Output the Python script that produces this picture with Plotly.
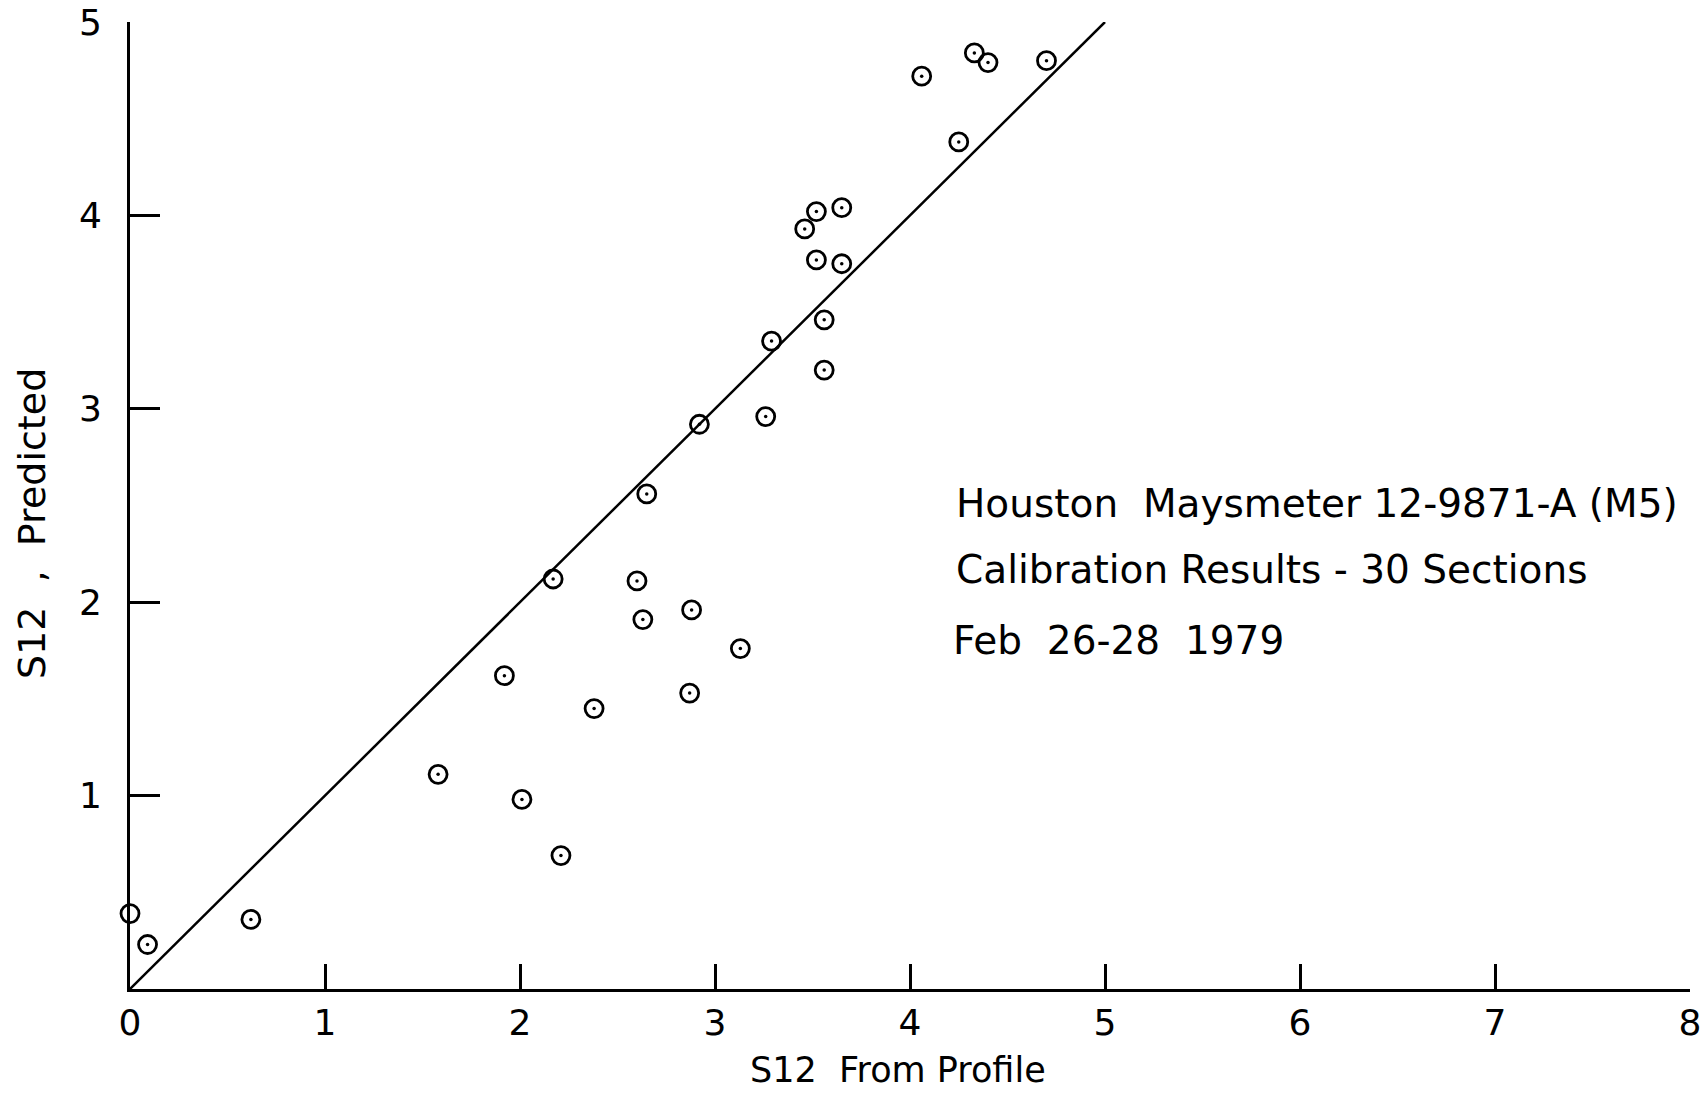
import plotly.graph_objects as go

# Data
s12_profile = [0.00, 0.09, 0.62, 1.58, 1.92, 2.01, 2.17, 2.21, 2.38, 2.60,
               2.63, 2.65, 2.87, 2.88, 2.92, 3.13, 3.26, 3.29, 3.46, 3.52,
               3.52, 3.56, 3.56, 3.65, 3.65, 4.06, 4.25, 4.33, 4.40, 4.70]
s12_predicted = [0.39, 0.23, 0.36, 1.11, 1.62, 0.98, 2.12, 0.69, 1.45, 2.11,
                 1.91, 2.56, 1.53, 1.96, 2.92, 1.76, 2.96, 3.35, 3.93, 4.02,
                 3.77, 3.46, 3.20, 4.04, 3.75, 4.72, 4.38, 4.84, 4.79, 4.80]
line_x = [0, 5]
line_y = [0, 5]
x_ticks = [0, 1, 2, 3, 4, 5, 6, 7, 8]
y_ticks = [1, 2, 3, 4, 5]
notes = ["Houston  Maysmeter 12-9871-A (M5)",
         "Calibration Results - 30 Sections",
         "Feb  26-28  1979"]

FONT = "DejaVu Sans"
W, H = 1704, 1095
ML, MT = 130, 22
MR = W - 1690
MB = H - 989

fig = go.Figure()
fig.add_trace(go.Scatter(x=line_x, y=line_y, mode="lines",
                         line=dict(color="black", width=2.5),
                         showlegend=False, hoverinfo="skip"))
fig.add_trace(go.Scatter(x=s12_profile, y=s12_predicted, mode="markers",
                         marker=dict(symbol="circle-open", size=18, color="black",
                                     line=dict(width=2.8, color="black")),
                         cliponaxis=False, showlegend=False))
fig.add_trace(go.Scatter(x=s12_profile[1:], y=s12_predicted[1:], mode="markers",
                         marker=dict(symbol="circle", size=3.5, color="black"),
                         cliponaxis=False, showlegend=False, hoverinfo="skip"))

axis_common = dict(showgrid=False, zeroline=False, showline=True, linecolor="black",
                   linewidth=3, ticks="inside", tickcolor="black", tickwidth=3,
                   automargin=False, ticklabeloverflow="allow",
                   tickfont=dict(family=FONT, size=36, color="black"))
fig.update_xaxes(range=[0, 8], tickvals=x_ticks, ticklen=25,
                 ticklabelstandoff=0, **axis_common)
fig.update_yaxes(range=[0, 5], tickvals=y_ticks, ticklen=30,
                 ticklabelstandoff=18, **axis_common)

pw, ph = W - ML - MR, H - MT - MB
def px(xp):  # page pixel -> paper x
    return (xp - ML) / pw
def py(yp):  # page pixel -> paper y
    return (H - MB - yp) / ph

ann = []
note_y = [503, 569, 640]
note_x = [954, 954, 951]
for t, xx, yy in zip(notes, note_x, note_y):
    ann.append(dict(text=t, x=px(xx), y=py(yy), xref="paper", yref="paper",
                    xanchor="left", yanchor="middle", showarrow=False,
                    font=dict(family=FONT, size=39, color="black")))
ann.append(dict(text="S12  From Profile", x=px(898), y=py(1070), xref="paper",
                yref="paper", xanchor="center", yanchor="middle", showarrow=False,
                font=dict(family=FONT, size=35, color="black")))
ann.append(dict(text="S12  ,  Predicted", x=px(32), y=py(524), xref="paper",
                yref="paper", xanchor="center", yanchor="middle", showarrow=False,
                textangle=-90, font=dict(family=FONT, size=38, color="black")))

fig.update_layout(width=W, height=H, margin=dict(l=ML, r=MR, t=MT, b=MB),
                  plot_bgcolor="white", paper_bgcolor="white", annotations=ann,
                  showlegend=False)
fig.write_html("out.html", config={"displayModeBar": False},
               post_script="document.body.style.margin='0';document.body.style.overflow='hidden';")
